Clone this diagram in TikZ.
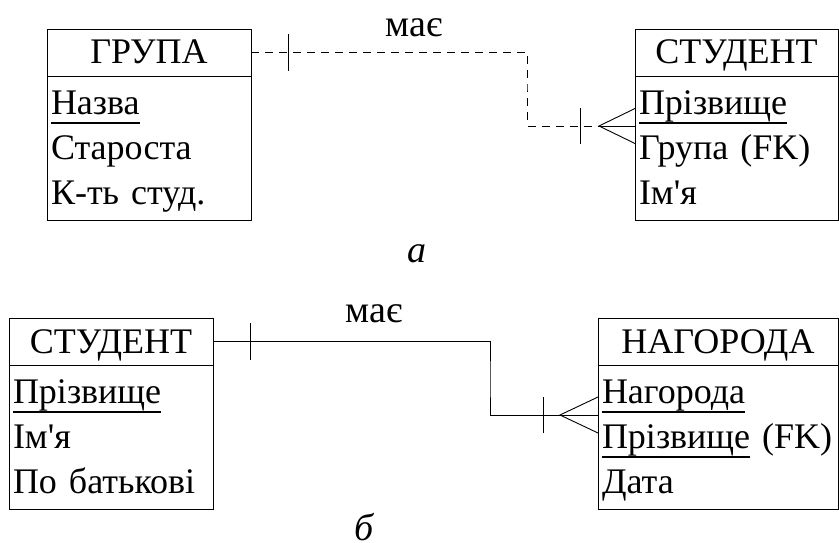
\documentclass[tikz,border=0pt]{standalone}
\usepackage{fontspec}
\setmainfont{Liberation Serif}
\usetikzlibrary{positioning}

% key attribute, underlined at a fixed depth
\newcommand{\keyfield}[1]{\leavevmode\setbox0=\hbox{#1}\rlap{\rule[-10pt]{\wd0}{1.8pt}}\box0\relax}

\tikzset{
  headbox/.style={draw, outer sep=0pt, inner ysep=0pt, text height=35pt, text depth=12pt},
  bodybox/.style={draw, outer sep=0pt, inner sep=0pt, minimum height=144pt},
  rowbox/.style={outer sep=0pt, inner ysep=0pt, inner xsep=4pt, text height=33pt, text depth=12pt, align=left},
  relline/.style={line width=0.9pt},
}

\begin{document}
\begin{tikzpicture}[x=1pt, y=-1pt, line width=0.9pt,
    every node/.style={font=\fontsize{36}{45}\selectfont}]
  \useasboundingbox (0,0) rectangle (839,543);

  % Entity ГРУПА
  \node[headbox, minimum width=204pt] (grupa) at (149,52.5) {ГРУПА};
  \node[bodybox, minimum width=204pt, below=0pt of grupa] (grupa-body) {};
  \node[rowbox, text width=196pt, below right=5pt and 0pt of grupa-body.north west] (grupa-1) {\keyfield{Назва}};
  \node[rowbox, text width=196pt, below=0pt of grupa-1] (grupa-2) {Староста};
  \node[rowbox, text width=196pt, below=0pt of grupa-2] (grupa-3) {К-ть студ.};

  % Entity СТУДЕНТ (a)
  \node[headbox, minimum width=203pt] (student-a) at (736.5,52.5) {СТУДЕНТ};
  \node[bodybox, minimum width=203pt, below=0pt of student-a] (student-a-body) {};
  \node[rowbox, text width=195pt, below right=5pt and 0pt of student-a-body.north west] (student-a-1) {\keyfield{Прізвище}};
  \node[rowbox, text width=195pt, below=0pt of student-a-1] (student-a-2) {Група (FK)};
  \node[rowbox, text width=195pt, below=0pt of student-a-2] (student-a-3) {Ім\textquotesingle я};

  % Relationship (a)
  \coordinate (bend-a) at (527,90);
  \node[anchor=base, font=\fontsize{38}{45}\selectfont] (has-a) at (414,37) {має};
  \draw[relline, dashed, dash pattern=on 8pt off 6pt] (grupa.east) -| (bend-a) |- (student-a-1.south west);
  \draw[relline] ([xshift=37pt, yshift=18.5pt]grupa.east) -- ([xshift=37pt, yshift=-18.5pt]grupa.east);
  \draw[relline] ([xshift=-55pt, yshift=17.5pt]student-a-1.south west) -- ([xshift=-55pt, yshift=-17.5pt]student-a-1.south west);
  \draw[relline] ([yshift=17.5pt]student-a-1.south west) -- ([xshift=-36pt]student-a-1.south west)
    -- ([yshift=-17.5pt]student-a-1.south west);
  \draw[relline] ([xshift=-36pt]student-a-1.south west) -- (student-a-1.south west);

  \node[anchor=base, font=\fontsize{38}{45}\selectfont\itshape] (cap-a) at (417,262) {а};

  % Entity СТУДЕНТ (б)
  \node[headbox, minimum width=204pt] (student-b) at (111,341.5) {СТУДЕНТ};
  \node[bodybox, minimum width=204pt, below=0pt of student-b] (student-b-body) {};
  \node[rowbox, text width=196pt, below right=5pt and 0pt of student-b-body.north west] (student-b-1) {\keyfield{Прізвище}};
  \node[rowbox, text width=196pt, below=0pt of student-b-1] (student-b-2) {Ім\textquotesingle я};
  \node[rowbox, text width=196pt, below=0pt of student-b-2] (student-b-3) {По батькові};

  % Entity НАГОРОДА
  \node[headbox, minimum width=240pt] (award) at (718,341.5) {НАГОРОДА};
  \node[bodybox, minimum width=240pt, below=0pt of award] (award-body) {};
  \node[rowbox, text width=232pt, below right=5pt and 0pt of award-body.north west] (award-1) {\keyfield{Нагорода}};
  \node[rowbox, text width=232pt, below=0pt of award-1] (award-2) {\keyfield{Прізвище} (FK)};
  \node[rowbox, text width=232pt, below=0pt of award-2] (award-3) {Дата};

  % Relationship (б)
  \coordinate (bend-b) at (490,380);
  \node[anchor=base, font=\fontsize{38}{45}\selectfont] (has-b) at (374,322) {має};
  \draw[relline] (student-b.east) -| (bend-b) |- (award-1.south west);
  \draw[relline] ([xshift=37pt, yshift=18.5pt]student-b.east) -- ([xshift=37pt, yshift=-18.5pt]student-b.east);
  \draw[relline] ([xshift=-55pt, yshift=18pt]award-1.south west) -- ([xshift=-55pt, yshift=-18pt]award-1.south west);
  \draw[relline] ([yshift=18pt]award-1.south west) -- ([xshift=-38pt]award-1.south west)
    -- ([yshift=-18pt]award-1.south west);

  \node[anchor=base, font=\fontsize{38}{45}\selectfont\itshape] (cap-b) at (364,540) {б};
\end{tikzpicture}
\end{document}
